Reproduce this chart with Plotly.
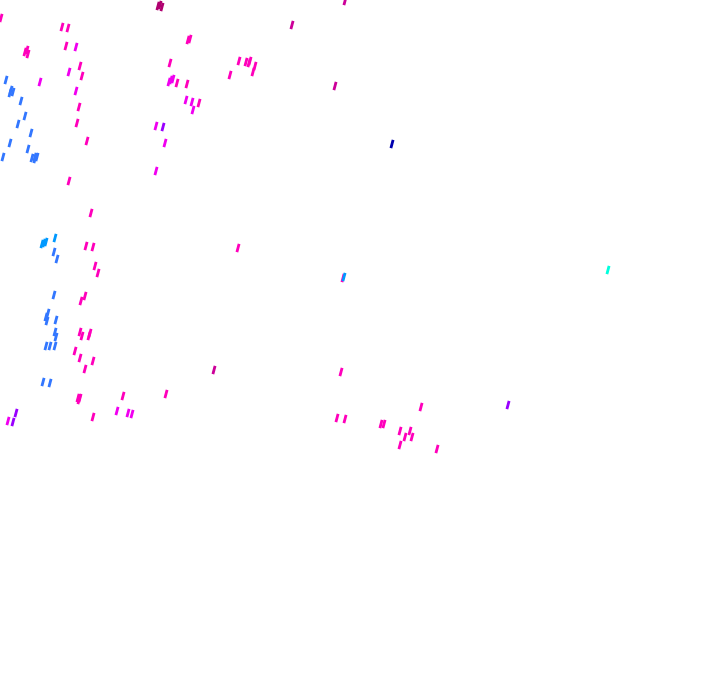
import plotly.graph_objects as go

# point positions (x, y) and group labels
x_vals = [1, 62, 68, 160, 162, 292, 345, 25, 28, 66, 76, 80, 69, 82, 40,
          6, 11, 13, 21, 25, 18, 31, 10, 28, 3, 32, 35,
          188, 170, 171, 173, 177, 187, 239, 246, 249, 255, 253, 230, 335,
          76, 79, 77, 87, 69, 91,
          186, 192, 199, 193, 156, 163, 165, 156,
          392,
          44, 46, 55, 54, 57, 86, 93, 95, 98, 238, 343, 344, 608,
          54, 85, 81, 48, 47, 56, 80, 82, 90, 89, 55, 56, 46, 50, 55,
          75, 80, 93, 85, 214, 341, 43, 50, 78, 79, 123, 166, 117, 128, 132, 93,
          16, 8, 13, 337, 345, 381, 384, 421, 508, 400, 410, 405, 412, 400, 437,
          27, 10, 37, 190, 169, 42, 80, 158, 250, 46, 35]
y_vals = [18, 27, 28, 5, 7, 25, 1, 52, 54, 46, 47, 66, 72, 76, 82,
          80, 90, 92, 101, 116, 124, 133, 143, 149, 157, 158, 157,
          40, 63, 80, 79, 83, 84, 61, 62, 63, 66, 72, 75, 86,
          91, 107, 123, 141, 181, 213,
          100, 102, 103, 110, 126, 127, 143, 171,
          144,
          243, 242, 238, 252, 259, 246, 247, 266, 273, 248, 278, 277, 270,
          295, 296, 301, 313, 321, 320, 332, 336, 333, 336, 332, 337, 346, 346, 346,
          351, 358, 361, 369, 370, 372, 382, 383, 398, 400, 396, 394, 411, 413, 414, 417,
          413, 421, 422, 418, 419, 424, 424, 407, 405, 431, 431, 437, 437, 445, 449,
          50, 93, 157, 39, 82, 244, 398, 6, 61, 317, 159]
groups = ["M", "M", "M", "DM", "DM", "RM", "RM", "M", "M", "M", "PM", "M", "PM", "M", "PM",
          "B", "B", "B", "B", "B", "B", "B", "B", "B", "B", "B", "B",
          "M", "M", "PM", "PM", "M", "M", "M", "M", "M", "M", "M", "M", "RM",
          "PM", "M", "M", "M", "M", "M",
          "PM", "PM", "M", "PM", "PM", "V", "PM", "PM",
          "DB",
          "LB", "LB", "LB", "B", "B", "M", "M", "M", "M", "M", "M", "LB", "C",
          "B", "M", "M", "B", "B", "B", "M", "M", "M", "M", "B", "B", "B", "B", "B",
          "M", "M", "M", "M", "RM", "M", "B", "B", "M", "M", "M", "M", "PM", "PM", "PM", "M",
          "V", "PM", "V", "M", "M", "M", "M", "M", "V", "M", "M", "M", "M", "M", "M",
          "M", "B", "B", "M", "PM", "LB", "M", "DM", "M", "B", "B"]

palette = {"M": "#ff00bb", "PM": "#f000f0", "RM": "#cc0099", "DM": "#b00070",
           "B": "#3377ff", "LB": "#0099ff", "C": "#00ffdd", "DB": "#0000b0", "V": "#9900ff"}

fig = go.Figure()
for g, col in palette.items():
    xs = [x for x, gg in zip(x_vals, groups) if gg == g]
    ys = [y for y, gg in zip(y_vals, groups) if gg == g]
    fig.add_trace(go.Scatter(
        x=xs, y=ys, mode="markers", showlegend=False, hoverinfo="skip",
        cliponaxis=False,
        marker=dict(symbol="line-ns", size=6, angle=15,
                    line=dict(width=2.8, color=col), color=col)))

fig.update_layout(
    width=720, height=692, margin=dict(l=0, r=0, t=0, b=0),
    paper_bgcolor="white", plot_bgcolor="white",
    xaxis=dict(range=[0, 720], visible=False, fixedrange=True),
    yaxis=dict(range=[692, 0], visible=False, fixedrange=True),
)
fig.write_html("out.html", config={"displayModeBar": False, "staticPlot": True},
               post_script="document.body.style.margin='0';")
